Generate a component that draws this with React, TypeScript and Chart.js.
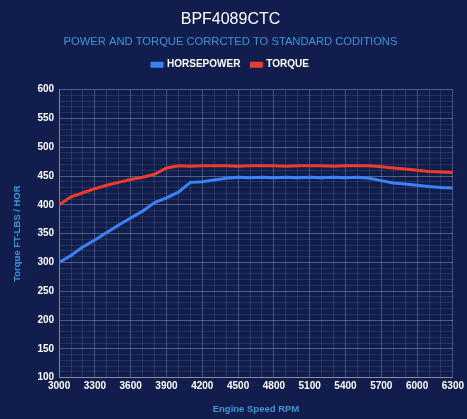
import React, { useEffect, useRef } from "react";
import { Chart, registerables } from "chart.js";

Chart.register(...registerables);

const rpm = [3000, 3100, 3200, 3300, 3400, 3500, 3600, 3700, 3800, 3900, 4000, 4100, 4200, 4300, 4400, 4500, 4600, 4700, 4800, 4900, 5000, 5100, 5200, 5300, 5400, 5500, 5600, 5700, 5800, 5900, 6000, 6100, 6200, 6300];
const horsepower = [300, 312, 327, 339, 352, 365, 377, 389, 404, 412, 422, 439, 440, 443, 446, 448, 447, 448, 447, 448, 447, 448, 447, 448, 447, 448, 446, 442, 438, 436, 434, 432, 430, 429];
const torque = [400, 414, 421, 428, 434, 439, 444, 448, 453, 464, 468, 467, 468, 468, 468, 467, 468, 468, 468, 467, 468, 468, 468, 467, 468, 468, 468, 466, 464, 462, 460, 458, 457, 456];

const titleText = "BPF4089CTC";
const subtitleText = "POWER AND TORQUE CORRCTED TO STANDARD CODITIONS";
const xTitle = "Engine Speed RPM";
const yTitle = "Torque FT-LBS / HOR";

const BG = "#111d4d";
const FONT = "'Liberation Sans', Arial, sans-serif";

export default function App() {
  const ref = useRef<HTMLCanvasElement | null>(null);

  useEffect(() => {
    document.body.style.margin = "0";
    document.body.style.background = BG;
    if (!ref.current) return;
    const bgPlugin = {
      id: "bg",
      beforeDraw(chart: any) {
        const ctx = chart.ctx;
        ctx.save();
        ctx.fillStyle = BG;
        ctx.fillRect(0, 0, chart.width, chart.height);
        ctx.restore();
      },
    };
    const legendSpacer = {
      id: "legendSpacer",
      beforeInit(chart: any) {
        const legend = chart.legend;
        if (!legend) return;
        const orig = legend.fit;
        legend.fit = function () {
          orig.call(this);
          this.height += 10;
        };
      },
    };
    const chart = new Chart(ref.current, {
      type: "line",
      data: {
        datasets: [
          {
            label: "HORSEPOWER",
            data: rpm.map((r, i) => ({ x: r, y: horsepower[i] })),
            borderColor: "#3b82f6",
            backgroundColor: "#3b82f6",
            borderWidth: 3,
            pointRadius: 0,
            tension: 0,
          },
          {
            label: "TORQUE",
            data: rpm.map((r, i) => ({ x: r, y: torque[i] })),
            borderColor: "#ef3b2d",
            backgroundColor: "#ef3b2d",
            borderWidth: 3,
            pointRadius: 0,
            tension: 0,
          },
        ],
      },
      plugins: [bgPlugin, legendSpacer],
      options: {
        animation: false,
        responsive: true,
        maintainAspectRatio: false,
        layout: { padding: { left: 8, right: 14, top: 6, bottom: 4 } },
        plugins: {
          title: {
            display: true,
            text: titleText,
            color: "#ffffff",
            font: { family: FONT, size: 16, weight: "normal" },
            padding: { top: 4, bottom: 6 },
          },
          subtitle: {
            display: true,
            text: subtitleText,
            color: "#3d95d6",
            font: { family: FONT, size: 11.2, weight: "normal" },
            padding: { bottom: 0 },
          },
          legend: {
            labels: {
              color: "#ffffff",
              boxWidth: 10,
              boxHeight: 3,
              font: { family: FONT, size: 10, weight: "bold" },
              padding: 11,
            },
          },
          tooltip: { enabled: false },
        },
        scales: {
          x: {
            type: "linear",
            min: 3000,
            max: 6300,
            title: {
              display: true,
              text: xTitle,
              color: "#3d95d6",
              font: { family: FONT, size: 9.5, weight: "bold" },
              padding: { top: 8, bottom: 0 },
            },
            ticks: {
              stepSize: 100,
              autoSkip: false,
              maxRotation: 0,
              color: "#ffffff",
              font: { family: FONT, size: 10, weight: "bold" },
              callback: (v: any) => (Number(v) % 300 === 0 ? String(v) : ""),
            },
            grid: {
              color: (c: any) =>
                c.tick && c.tick.value % 300 === 0 ? "rgba(255,255,255,0.22)" : "rgba(255,255,255,0.09)",
              drawTicks: false,
            },
            border: { color: "rgba(255,255,255,0.3)" },
          },
          y: {
            min: 100,
            max: 600,
            title: {
              display: true,
              text: yTitle,
              color: "#3d95d6",
              font: { family: FONT, size: 9.5, weight: "bold" },
              padding: { top: 4, bottom: 9 },
            },
            ticks: {
              stepSize: 10,
              autoSkip: false,
              padding: 5,
              color: "#ffffff",
              font: { family: FONT, size: 10, weight: "bold" },
              callback: (v: any) => (Number(v) % 50 === 0 ? String(v) : ""),
            },
            grid: {
              color: (c: any) =>
                c.tick && c.tick.value % 50 === 0 ? "rgba(255,255,255,0.28)" : "rgba(255,255,255,0.09)",
              drawTicks: false,
            },
            border: { color: "rgba(255,255,255,0.3)" },
          },
        },
      },
    });
    return () => chart.destroy();
  }, []);

  return (
    <div style={{ position: "fixed", left: 0, top: 0, width: 467, height: 419, background: BG }}>
      <canvas ref={ref} />
    </div>
  );
}
